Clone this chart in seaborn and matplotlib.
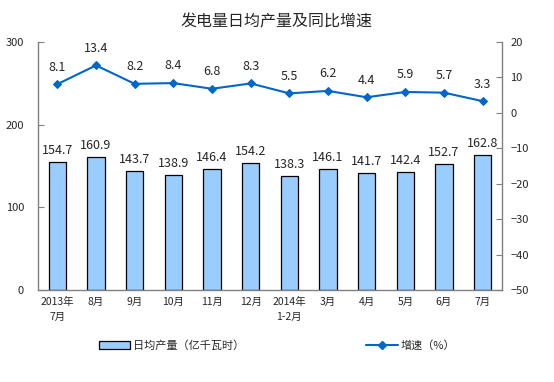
import numpy as np
import pandas as pd
import seaborn as sns
import matplotlib.pyplot as plt
from matplotlib.lines import Line2D
from matplotlib.patches import Patch

# datos
meses = ['2013年\n7月', '8月', '9月', '10月', '11月', '12月',
         '2014年\n1-2月', '3月', '4月', '5月', '6月', '7月']
produccion = [154.7, 160.9, 143.7, 138.9, 146.4, 154.2,
              138.3, 146.1, 141.7, 142.4, 152.7, 162.8]
crecimiento = [8.1, 13.4, 8.2, 8.4, 6.8, 8.3, 5.5, 6.2, 4.4, 5.9, 5.7, 3.3]

df = pd.DataFrame({'mes': meses, 'prod': produccion, 'crec': crecimiento})

sns.set_style('white')
plt.rcParams['font.family'] = ['Noto Sans CJK SC', 'DejaVu Sans']

color_barra = '#99CCFF'
color_linea = '#0066CC'
gris = '#808080'

fig = plt.figure(figsize=(5.54, 3.82), dpi=100)
ax = fig.add_axes([38 / 554, 1 - 290 / 382, 464 / 554, 248 / 382])

sns.barplot(data=df, x='mes', y='prod', color=color_barra, width=0.44,
            edgecolor='black', linewidth=0.9, saturation=1, ax=ax)
ax.set_ylim(0, 300)
ax.set_yticks([0, 100, 200, 300])
ax.set_xlim(-0.5, len(meses) - 0.5)
for p, v in zip(ax.patches, produccion):
    ax.text(p.get_x() + p.get_width() / 2, v + 6, f'{v:.1f}',
            ha='center', va='bottom', fontsize=9)

ax2 = ax.twinx()
sns.lineplot(x=np.arange(len(meses)), y=crecimiento, color=color_linea,
             marker='D', markersize=4.5, markeredgecolor=color_linea,
             linewidth=1.5, ax=ax2)
ax2.set_ylim(-50, 20)
ax2.set_yticks(range(-50, 21, 10))
for i, v in enumerate(crecimiento):
    ax2.text(i, v + 3.0, f'{v:.1f}', ha='center', va='bottom', fontsize=9)

# ejes
for a in (ax, ax2):
    a.spines['top'].set_visible(False)
    for s in ('left', 'right', 'bottom'):
        a.spines[s].set_color(gris)
        a.spines[s].set_linewidth(1)
    a.set_xlabel('')
    a.set_ylabel('')
ax.spines['right'].set_visible(False)
ax2.spines['left'].set_visible(False)
ax2.spines['bottom'].set_visible(False)

ax.set_xticks(np.arange(len(meses)))
ax.set_xticklabels(meses, fontsize=7.5, linespacing=1.6)
ax.tick_params(axis='x', length=0, pad=5)
ax.set_xticks(np.arange(len(meses) + 1) - 0.5, minor=True)
ax.tick_params(axis='x', which='minor', direction='in', length=3, color=gris)
ax.tick_params(axis='y', direction='in', length=4, color=gris, labelsize=8, left=True, pad=10)
ax2.tick_params(axis='y', direction='in', length=4, color=gris, labelsize=8, right=True, pad=6)

fig.suptitle('发电量日均产量及同比增速', x=0.5, y=0.965, fontsize=11.5)

handles = [Patch(facecolor=color_barra, edgecolor='black', linewidth=0.9),
           Line2D([], [], color=color_linea, marker='D', markersize=4.5, linewidth=1.5)]
fig.legend(handles, ['日均产量（亿千瓦时）', '增速（%）'], loc='center',
           bbox_to_anchor=(0.5, 0.095), ncol=2, frameon=False, fontsize=8,
           columnspacing=11, handlelength=2.8, handleheight=0.8, handletextpad=0.3)

fig.savefig('out.png', dpi=100)
